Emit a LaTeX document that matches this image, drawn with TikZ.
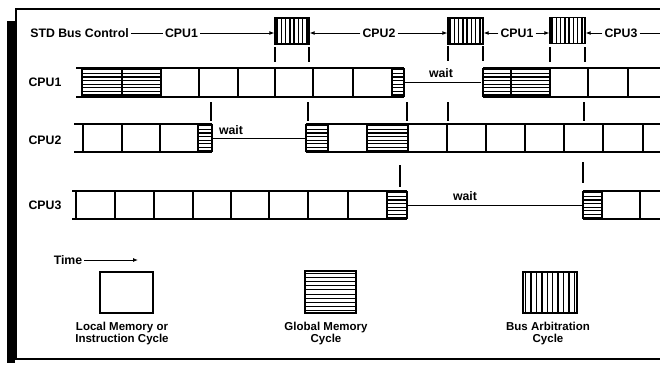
\documentclass[tikz,border=0pt]{standalone}
\usepackage{fontspec}
\setmainfont{Liberation Sans}
\usetikzlibrary{arrows.meta}
\begin{document}
\begin{tikzpicture}[x=1pt,y=-1pt,
  txt/.style={font=\fontsize{12.3}{14}\selectfont\bfseries, inner sep=2pt},
  lgd/.style={font=\fontsize{11.5}{12}\selectfont\bfseries, align=center, inner sep=0pt},
  rowline/.style={line width=1.5pt},
  cellline/.style={line width=1.3pt},
  tickline/.style={line width=1.2pt},
  arr/.style={line width=0.9pt, -{Latex[length=5pt,width=4pt]}},
  hhatch/.style={path picture={\foreach \k in {1,...,24}
      \draw[line width=1.15pt] ([yshift={-(\k-0.5)*#1}]path picture bounding box.north west) -- ([yshift={-(\k-0.5)*#1}]path picture bounding box.north east);}},
  vhatch/.style={path picture={\foreach \k in {1,...,24}
      \draw[line width=1.4pt] ([xshift={(\k-0.5)*#1}]path picture bounding box.south west) -- ([xshift={(\k-0.5)*#1}]path picture bounding box.north west);}},
  arb/.style={draw, line width=1.3pt, minimum width=34pt, minimum height=26pt, inner sep=0pt, vhatch=4.25pt}
]
\useasboundingbox (0,0) rectangle (660,370);
% frame
\draw[line width=1.5pt] (660,9) -- (16,9) -- (16,359) -- (660,359);
\fill (7,21) rectangle (15,363);

% header
\node[txt] (hdr) at (79.5,33) {STD Bus Control};
\node[txt] (c1) at (181.5,33) {CPU1};
\node[txt] (c2) at (379,33) {CPU2};
\node[txt] (c1b) at (517,33) {CPU1};
\node[txt] (c3) at (621,33) {CPU3};
\node[arb] (A1) at (292,31) {};
\node[arb, minimum width=35pt] (A2) at (465.5,31) {};
\node[arb, minimum width=35pt] (A3) at (567.5,30.5) {};
\coordinate (hdrEnd) at (660,33);
\draw[line width=0.9pt] (hdr.east) -- (c1.west);
\draw[arr] (c1.east) -- (c1.east -| A1.west);
\draw[arr] (c2.west) -- (c2.west -| A1.east);
\draw[arr] (c2.east) -- (c2.east -| A2.west);
\draw[arr] (c1b.west) -- (c1b.west -| A2.east);
\draw[arr] (c1b.east) -- (c1b.east -| A3.west);
\draw[arr] (c3.west) -- (c3.west -| A3.east);
\draw[line width=0.9pt] (c3.east) -- (hdrEnd);

% row labels
\node[txt] (r1) at (45,82) {CPU1};
\node[txt] (r2) at (45,140) {CPU2};
\node[txt] (r3) at (45,205) {CPU3};

% CPU1 row
\path[hhatch=3.6pt] (82,68) rectangle (122,97);
\path[hhatch=3.6pt] (122,68) rectangle (161,97);
\path[hhatch=3.6pt] (392,68) rectangle (404,97);
\path[hhatch=3.6pt] (483,68) rectangle (511,97);
\path[hhatch=3.6pt] (511,68) rectangle (550,97);
\draw[rowline] (76,68) -- (404,68) (76,97) -- (404,97) (483,68) -- (660,68) (483,97) -- (660,97);
\foreach \x in {82,122,161,199,238,275,313,353,392,404,483,511,550,588,628}
  \draw[cellline] (\x,68) -- (\x,97);
\draw[line width=1pt] (405,82) -- (481,82);
\node[txt] (w1) at (441,73) {wait};

% CPU2 row
\path[hhatch=3.6pt] (198,124) rectangle (212,152);
\path[hhatch=3.6pt] (306,124) rectangle (328,152);
\path[hhatch=3.6pt] (367,124) rectangle (408,152);
\draw[rowline] (74,124) -- (212,124) (74,152) -- (212,152) (306,124) -- (660,124) (306,152) -- (660,152);
\foreach \x in {83,122,160,198,212,306,328,367,408,447,486,525,564,603,643}
  \draw[cellline] (\x,124) -- (\x,152);
\draw[line width=1pt] (213,138) -- (305,138);
\node[txt] (w2) at (231,130) {wait};

% CPU3 row
\path[hhatch=3.6pt] (387,191) rectangle (407,219);
\path[hhatch=3.6pt] (583,191) rectangle (602,219);
\draw[rowline] (72,191) -- (407,191) (72,219) -- (407,219) (583,191) -- (660,191) (583,219) -- (660,219);
\foreach \x in {76,115,154,193,231,269,308,348,387,407,583,602,640}
  \draw[cellline] (\x,191) -- (\x,219);
\draw[line width=1pt] (408,205) -- (583,205);
\node[txt] (w3) at (465,196) {wait};

% ticks
\foreach \x in {275,309,550,585} \draw[tickline] (\x,47) -- (\x,62);
\foreach \x in {448,483} \draw[tickline] (\x,46) -- (\x,61);
\foreach \x in {211,308,407,448,584} \draw[tickline] (\x,102) -- (\x,121);
\draw[tickline] (400,165) -- (400,187);
\draw[tickline] (583,162) -- (583,183);

% legend
\node[txt] (time) at (68,260) {Time};
\coordinate (timeEnd) at (138,260);
\draw[arr] (time.east) -- (timeEnd);
\node[draw, line width=1.3pt, minimum width=53pt, minimum height=41pt, inner sep=0pt] (L1) at (126.5,292.5) {};
\node[draw, line width=1.3pt, minimum width=51pt, minimum height=42pt, inner sep=0pt, hhatch=4.2pt] (L2) at (330.5,292) {};
\node[draw, line width=1.3pt, minimum width=54pt, minimum height=41pt, inner sep=0pt, vhatch=5.4pt] (L3) at (550,292.5) {};
\node[lgd] (T1) at (122,334) {Local Memory or\\Instruction Cycle};
\node[lgd] (T2) at (326,334) {Global Memory\\Cycle};
\node[lgd] (T3) at (548,334) {Bus Arbitration\\Cycle};
\end{tikzpicture}
\end{document}
